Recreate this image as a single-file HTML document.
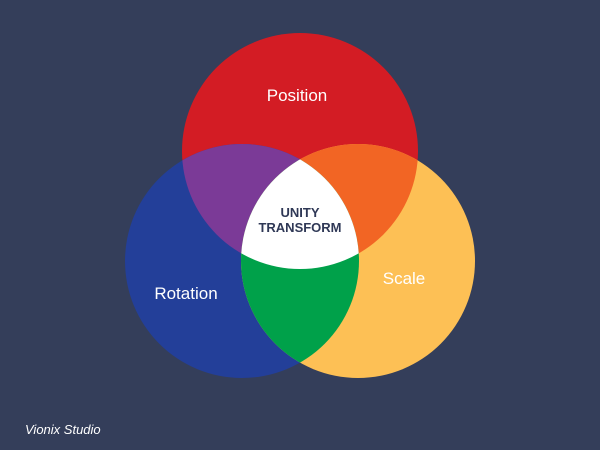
<!DOCTYPE html>
<html><head><style>
html,body{margin:0;padding:0;background:#343e5a;}
svg{display:block}
</style></head><body>
<svg width="600" height="450" viewBox="0 0 600 450" xmlns="http://www.w3.org/2000/svg">
<defs>
<clipPath id="cr"><circle cx="300" cy="151" r="118"/></clipPath>
<clipPath id="cb"><circle cx="242" cy="261" r="117"/></clipPath>
<clipPath id="cy"><circle cx="358" cy="261" r="117"/></clipPath>
</defs>
<rect width="600" height="450" fill="#343e5a"/>
<circle cx="300" cy="151" r="118" fill="#d31c24"/>
<circle cx="242" cy="261" r="117" fill="#233f99"/>
<circle cx="358" cy="261" r="117" fill="#fdc055"/>
<g clip-path="url(#cr)"><circle cx="242" cy="261" r="117" fill="#7b3a97"/><circle cx="358" cy="261" r="117" fill="#f26524"/></g>
<g clip-path="url(#cb)"><circle cx="358" cy="261" r="117" fill="#00a14a"/></g>
<g clip-path="url(#cr)"><g clip-path="url(#cb)"><circle cx="358" cy="261" r="117" fill="#ffffff"/></g></g>
<g font-family="Liberation Sans, sans-serif" fill="#ffffff" text-anchor="middle">
<text x="297" y="101" font-size="17">Position</text>
<text x="186" y="299" font-size="17">Rotation</text>
<text x="404" y="284" font-size="17">Scale</text>
<text x="300" y="217" font-size="13" font-weight="bold" fill="#2f3856">UNITY</text>
<text x="300" y="232" font-size="13" font-weight="bold" fill="#2f3856">TRANSFORM</text>
<text x="25" y="434" font-size="13" font-style="italic" text-anchor="start">Vionix Studio</text>
</g>
</svg>
</body></html>
